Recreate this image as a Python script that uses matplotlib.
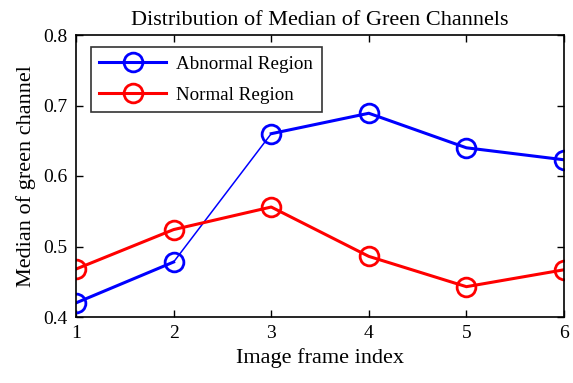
import matplotlib
matplotlib.use('Agg')
import matplotlib.pyplot as plt

# Median of green channel per frame
frames = [1, 2, 3, 4, 5, 6]
abnormal = [0.420, 0.478, 0.660, 0.689, 0.640, 0.623]
normal = [0.468, 0.524, 0.556, 0.486, 0.443, 0.467]

plt.rcParams['font.family'] = ['Liberation Serif', 'DejaVu Serif']

fig = plt.figure(figsize=(5.73, 3.83), dpi=100)
ax = fig.add_axes([76 / 573, 1 - 317 / 383, (564 - 76) / 573, (317 - 35) / 383])

mk = dict(marker='o', markersize=13.5, markerfacecolor='none', markeredgewidth=2)

# the 2->3 segment of the abnormal curve is drawn thinner
ax.plot(frames[:2], abnormal[:2], color='#0000ff', lw=2.2, **mk)
ax.plot(frames[1:3], abnormal[1:3], color='#0000ff', lw=1.1)
ax.plot(frames[2:], abnormal[2:], color='#0000ff', lw=2.2, **mk)
ax.plot(frames, normal, color='#ff0000', lw=2.2, **mk)

h_ab, = ax.plot([], [], color='#0000ff', lw=2.2, **mk)
h_no, = ax.plot([], [], color='#ff0000', lw=2.2, **mk)
leg = ax.legend([h_ab, h_no], ['Abnormal Region', 'Normal Region'],
                loc='upper left', bbox_to_anchor=(0.03, 0.957), fontsize=13.7,
                frameon=True, fancybox=False, edgecolor='black',
                handlelength=3.5, borderpad=0.45, labelspacing=0.7,
                handletextpad=0.55, borderaxespad=0)
leg.get_frame().set_linewidth(1.2)

ax.set_xlim(1, 6)
ax.set_ylim(0.4, 0.8)
ax.set_xticks(frames)
ax.set_yticks([0.4, 0.5, 0.6, 0.7, 0.8])
ax.set_yticklabels(['0.4', '0.5', '0.6', '0.7', '0.8'])
ax.tick_params(direction='in', top=True, right=True, length=5, width=1,
               labelsize=14, pad=6)
for s in ax.spines.values():
    s.set_linewidth(1.2)

ax.set_title('Distribution of Median of Green Channels', fontsize=16, pad=7)
ax.set_xlabel('Image frame index', fontsize=16, labelpad=4)
ax.set_ylabel('Median of green channel', fontsize=16, labelpad=5)

fig.savefig('out.png', dpi=100)
